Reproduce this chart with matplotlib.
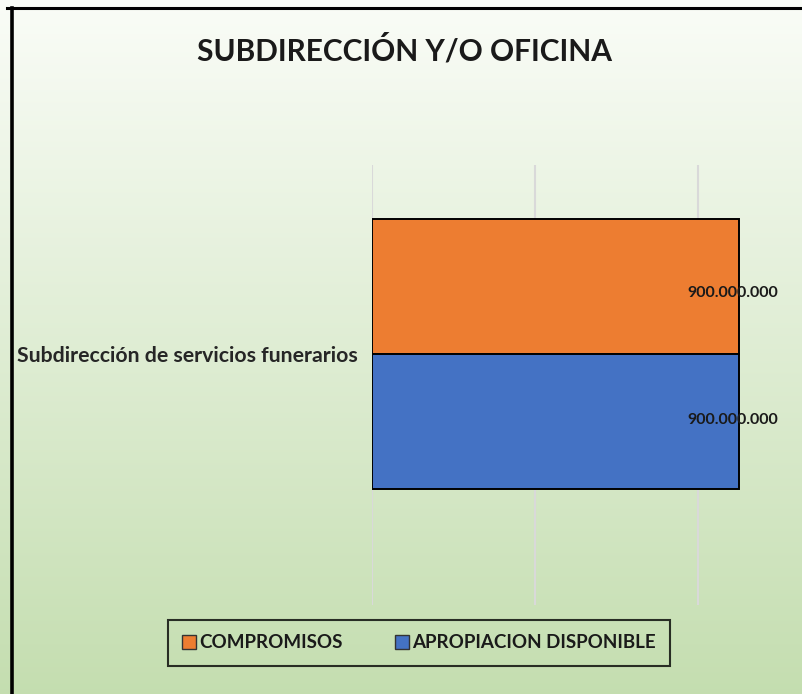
import matplotlib
matplotlib.use("Agg")
import matplotlib.pyplot as plt
import numpy as np
from matplotlib.lines import Line2D
from matplotlib.patches import Patch

# chart data
categories = ["Subdirección de servicios funerarios"]
series_names = ["COMPROMISOS", "APROPIACION DISPONIBLE"]
compromisos = [900000000]
apropiacion = [900000000]
series_colors = ["#ED7D31", "#4472C4"]

plt.rcParams["font.family"] = ["Lato", "DejaVu Sans"]

fig = plt.figure(figsize=(8.03, 6.94), dpi=100)

# background gradient (white at top, light green at bottom)
bg = fig.add_axes([0, 0, 1, 1], zorder=-10)
top = np.array([0.98, 0.99, 0.97])
bottom = np.array([0.77, 0.87, 0.69])
t = np.linspace(0, 1, 256)[:, None]
grad = top + (bottom - top) * t
bg.imshow(grad[:, None, :], aspect="auto", extent=[0, 1, 0, 1])
bg.set_xlim(0, 1)
bg.set_ylim(0, 1)
bg.axis("off")

# outer frame (top and left edges visible)
W, H = 803, 694
fig.add_artist(Line2D([7 / W, 1], [1 - 8 / H, 1 - 8 / H], color="black", lw=2.2))
fig.add_artist(Line2D([12 / W, 12 / W], [0, 1 - 8 / H], color="black", lw=2.6))

fig.text(405 / W, 1 - 50 / H, "SUBDIRECCIÓN Y/O OFICINA", ha="center", va="center",
         fontsize=21.5, fontweight="bold", color="#1a1a1a")

ax_l, ax_r, ax_t, ax_b = 372, 780, 165, 605
ax = fig.add_axes([ax_l / W, 1 - ax_b / H, (ax_r - ax_l) / W, (ax_b - ax_t) / H])
ax.set_facecolor("none")

h = 0.35
y = np.arange(len(categories))
ax.barh(y + h / 2, compromisos, height=h, color=series_colors[0], edgecolor="black",
        linewidth=1.4, label=series_names[0], zorder=3)
ax.barh(y - h / 2, apropiacion, height=h, color=series_colors[1], edgecolor="black",
        linewidth=1.4, label=series_names[1], zorder=3)

for vals, off in [(compromisos, h / 2 - 0.017), (apropiacion, -h / 2 + 0.005)]:
    for yi, v in zip(y, vals):
        ax.annotate(f"{v:,.0f}".replace(",", "."), (v, yi + off), xytext=(-6, 0),
                    textcoords="offset pixels", ha="center", va="center",
                    fontsize=11.5, fontweight="bold", color="#1a1a1a", zorder=4)

px = (h * 2) / 270
ax.set_ylim(-(ax_b - 354) * px, (354 - ax_t) * px)
ax.set_xlim(0, 1000000000)
ax.set_xticks([0, 400000000, 800000000])
ax.xaxis.grid(True, color="#d9d9d9", linewidth=1.5, zorder=0)
ax.tick_params(axis="x", length=0, labelbottom=False)
ax.set_yticks(y)
ax.set_yticklabels(categories, fontsize=15.3, fontweight="bold", color="#262626")
ax.tick_params(axis="y", length=0, pad=10)
for s in ax.spines.values():
    s.set_visible(False)

handles = [Patch(facecolor=c, edgecolor="#333333", label=n) for c, n in zip(series_colors, series_names)]
leg = fig.legend(handles=handles, loc="center", bbox_to_anchor=(419 / W, 1 - 643 / H),
                 ncol=2, frameon=True, fancybox=False, edgecolor="black",
                 prop={"size": 13.5, "weight": "bold"}, handlelength=0.75, handleheight=0.75,
                 handletextpad=0.15, columnspacing=2.8, borderpad=0.75, borderaxespad=0)
leg.get_frame().set_facecolor("none")
leg.get_frame().set_linewidth(1.5)
for txt in leg.get_texts():
    txt.set_color("#1a1a1a")

fig.savefig("out.png", dpi=100)
